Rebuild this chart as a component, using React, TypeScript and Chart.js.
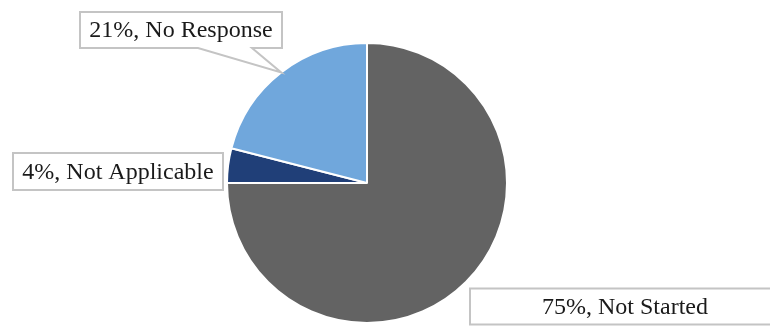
import React, { useEffect, useRef } from 'react';
import { Chart, registerables } from 'chart.js';

Chart.register(...registerables);

const categories = ['Not Started', 'Not Applicable', 'No Response'];
const percentages = [75, 4, 21];
const sliceColors = ['#636363', '#203F78', '#70A7DC'];

// Callout boxes, placed relative to the pie centre (Excel-style moved labels)
const labelBoxes = [
  { dx: 258, dy: 123.5, w: 310, h: 36, pointer: null as null | [number, number] },
  { dx: -249, dy: -11.5, w: 210, h: 37, pointer: null as null | [number, number] },
  { dx: -186, dy: -153, w: 202, h: 36, pointer: [118, 172] as null | [number, number] },
];

const calloutPlugin = {
  id: 'callouts',
  afterDraw(chart: any) {
    const ctx = chart.ctx as CanvasRenderingContext2D;
    const meta = chart.getDatasetMeta(0);
    meta.data.forEach((arc: any, i: number) => {
      const p = arc.getProps(['x', 'y', 'outerRadius', 'startAngle', 'endAngle'], true);
      const box = labelBoxes[i];
      const cx = p.x + box.dx;
      const cy = p.y + box.dy;
      const left = cx - box.w / 2;
      const top = cy - box.h / 2;
      const right = left + box.w;
      const bottom = top + box.h;
      ctx.save();
      ctx.beginPath();
      ctx.moveTo(left, top);
      ctx.lineTo(right, top);
      ctx.lineTo(right, bottom);
      if (box.pointer) {
        const mid = (p.startAngle + p.endAngle) / 2;
        const tx = p.x + Math.cos(mid) * p.outerRadius;
        const ty = p.y + Math.sin(mid) * p.outerRadius;
        ctx.lineTo(left + box.pointer[1], bottom);
        ctx.lineTo(tx, ty);
        ctx.lineTo(left + box.pointer[0], bottom);
      }
      ctx.lineTo(left, bottom);
      ctx.closePath();
      ctx.fillStyle = '#ffffff';
      ctx.fill();
      ctx.lineWidth = 2;
      ctx.strokeStyle = '#C4C4C4';
      ctx.stroke();
      ctx.fillStyle = '#1a1a1a';
      ctx.font = '24px "Liberation Serif", "Times New Roman", serif';
      ctx.textAlign = 'center';
      ctx.textBaseline = 'middle';
      ctx.fillText(`${percentages[i]}%, ${categories[i]}`, cx, cy + 1);
      ctx.restore();
    });
  },
};

export default function App() {
  const ref = useRef<HTMLCanvasElement>(null);
  useEffect(() => {
    if (!ref.current) return;
    const chart = new Chart(ref.current, {
      type: 'pie',
      data: {
        labels: categories,
        datasets: [
          {
            data: percentages,
            backgroundColor: sliceColors,
            borderColor: '#ffffff',
            borderWidth: 2,
            hoverOffset: 0,
          },
        ],
      },
      options: {
        animation: false,
        responsive: false,
        events: [],
        layout: { padding: { left: 0, right: 36, top: 42, bottom: 2 } },
        plugins: {
          legend: { display: false },
          tooltip: { enabled: false },
        },
      },
      plugins: [calloutPlugin],
    } as any);
    return () => chart.destroy();
  }, []);
  return (
    <div style={{ position: 'fixed', left: 0, top: 0, width: 770, height: 326, background: '#fff' }}>
      <canvas ref={ref} width={770} height={326} />
    </div>
  );
}
